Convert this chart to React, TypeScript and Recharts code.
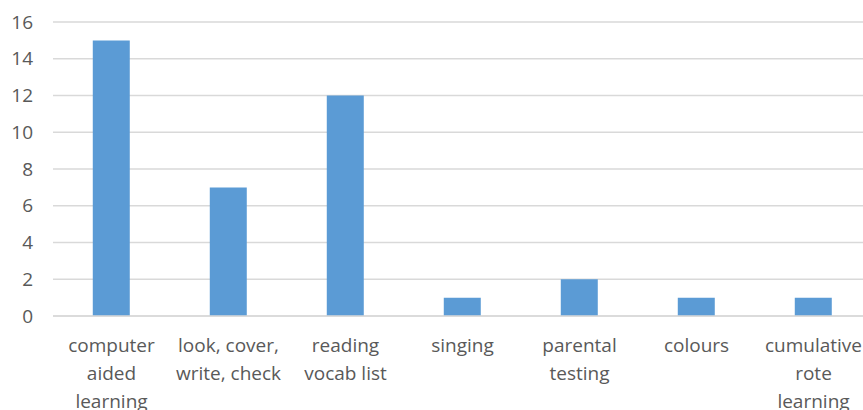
// bar chart of vocabulary learning methods
import { Bar, BarChart, CartesianGrid, XAxis, YAxis } from "recharts";

const categories = [
  "computer aided learning",
  "look, cover, write, check",
  "reading vocab list",
  "singing",
  "parental testing",
  "colours",
  "cumulative rote learning",
];
const labelLines = [
  ["computer", "aided", "learning"],
  ["look, cover,", "write, check"],
  ["reading", "vocab list"],
  ["singing"],
  ["parental", "testing"],
  ["colours"],
  ["cumulative", "rote", "learning"],
];
const counts = [15, 7, 12, 1, 2, 1, 1];
const yTicks = [0, 2, 4, 6, 8, 10, 12, 14, 16];

const data = categories.map((name, i) => ({ name, count: counts[i] }));

const font = "'Open Sans', 'Liberation Sans', sans-serif";

function CategoryTick(props: any) {
  const { x, y, index } = props;
  const lines = labelLines[index] || [];
  return (
    <text x={x} y={y} textAnchor="middle" fill="#595959" fontSize={19} fontFamily={font}>
      {lines.map((line, i) => (
        <tspan key={i} x={x} dy={i === 0 ? 36 : 28}>
          {line}
        </tspan>
      ))}
    </text>
  );
}

export default function App() {
  return (
    <div style={{ position: "fixed", left: 0, top: 0, width: 863, height: 410, overflow: "hidden", background: "#fff" }}>
      <BarChart width={872} height={410} data={data} margin={{ top: 22, right: 0, bottom: 0, left: 0 }} barCategoryGap="34%">
        <CartesianGrid vertical={false} stroke="#d9d9d9" strokeWidth={1.5} />
        <XAxis
          dataKey="name"
          height={94}
          interval={0}
          tickLine={false}
          tickSize={0}
          tickMargin={0}
          axisLine={{ stroke: "#d9d9d9", strokeWidth: 1.5 }}
          tick={<CategoryTick />}
        />
        <YAxis
          width={53}
          domain={[0, 16]}
          ticks={yTicks}
          axisLine={false}
          tickLine={false}
          tickMargin={14}
          tick={{ fill: "#595959", fontSize: 19, fontFamily: font }}
        />
        <Bar dataKey="count" fill="#5b9bd5" isAnimationActive={false} />
      </BarChart>
    </div>
  );
}
